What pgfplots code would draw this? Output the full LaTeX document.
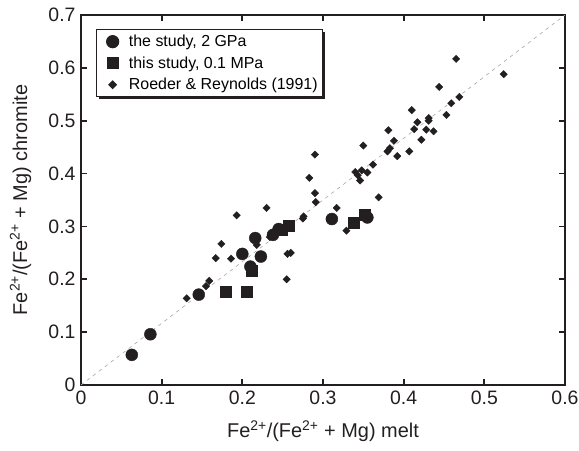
\documentclass[border=0pt]{standalone}
\usepackage{pgfplots}
\pgfplotsset{compat=1.18}
\usepackage{fontspec}
\setmainfont{Liberation Sans}
\usetikzlibrary{shadows}
\definecolor{mk}{RGB}{35,31,32}
\begin{document}
\begin{tikzpicture}
\useasboundingbox (-81bp,-66bp) rectangle (498bp,385bp);
\begin{axis}[
  scale only axis, width=484bp, height=370bp,
  xmin=0, xmax=0.6, ymin=0, ymax=0.7,
  /pgf/number format/assume math mode=true,
  xtick={0,0.1,0.2,0.3,0.4,0.5,0.6},
  ytick={0,0.1,0.2,0.3,0.4,0.5,0.6,0.7},
  xticklabels={0,0.1,0.2,0.3,0.4,0.5,0.6},
  yticklabels={0,0.1,0.2,0.3,0.4,0.5,0.6,0.7},
  tick align=inside, major tick length=6bp,
  axis line style={line width=1.8bp, color=mk},
  every tick/.style={line width=1.8bp, color=mk},
  tick label style={font=\fontsize{19.5}{21}\selectfont, color=mk},
  xticklabel style={yshift=-2bp},
  yticklabel style={xshift=-2bp},
  label style={font=\fontsize{20}{22}\selectfont, color=mk},
  xlabel={Fe\textsuperscript{2+}/(Fe\textsuperscript{2+} + Mg) melt},
  ylabel={Fe\textsuperscript{2+}/(Fe\textsuperscript{2+} + Mg) chromite},
  xlabel style={at={(axis description cs:0.5,-0.125)}, anchor=center},
  ylabel style={at={(axis description cs:-0.125,0.5)}, anchor=center},
  legend style={at={(axis description cs:0.0304,0.962)}, anchor=north west,
    draw=mk, line width=1.2bp, fill=white,
    drop shadow={shadow xshift=2.5bp, shadow yshift=-2.5bp, opacity=1, fill=mk},
    font=\fontsize{16}{18}\selectfont, cells={anchor=west},
    nodes={inner xsep=1.5bp},
    row sep=4.5bp, inner xsep=3bp, inner ysep=3.5bp},
  legend image code/.code={\path (0cm,0cm) (0.95cm,0cm);
    \draw[mark repeat=2,mark phase=2,#1] plot coordinates {(0cm,0cm)(0.45cm,0cm)(0.9cm,0cm)};},
]
\addlegendimage{only marks, mark=*, mark size=6bp, color=mk}
\addlegendimage{only marks, mark=square*, mark size=5.5bp, color=mk}
\addlegendimage{only marks, mark=square*, mark size=2.6bp, mark options={rotate=45}, color=mk}
\legend{{the study, 2 GPa}, {this study, 0.1 MPa}, {Roeder \& Reynolds (1991)}}

\addplot[forget plot, gray!70, line width=0.6bp, dash pattern=on 3.5bp off 4bp] coordinates {(0,0) (0.6,0.7)};

% Roeder & Reynolds (1991)
\addplot[forget plot, only marks, mark=square*, mark size=2.6bp, mark options={rotate=45}, color=mk] coordinates {
(0.131,0.164) (0.155,0.187) (0.159,0.197) (0.167,0.240) (0.174,0.267)
(0.186,0.239) (0.193,0.321) (0.218,0.265) (0.230,0.335) (0.234,0.280)
(0.255,0.200) (0.256,0.248) (0.260,0.250) (0.275,0.315) (0.276,0.319)
(0.283,0.392) (0.290,0.436) (0.290,0.363) (0.291,0.346) (0.317,0.335)
(0.329,0.292) (0.340,0.403) (0.343,0.397) (0.346,0.387) (0.348,0.406)
(0.355,0.402) (0.362,0.417) (0.350,0.453) (0.369,0.355) (0.380,0.442)
(0.383,0.448) (0.388,0.462) (0.381,0.482) (0.392,0.433) (0.407,0.442)
(0.410,0.520) (0.417,0.497) (0.413,0.484) (0.422,0.464) (0.428,0.483)
(0.431,0.505) (0.431,0.500) (0.437,0.480) (0.444,0.564) (0.453,0.511)
(0.459,0.533) (0.469,0.545) (0.465,0.617) (0.524,0.588)
};
% the study, 2 GPa
\addplot[forget plot, only marks, mark=*, mark size=6bp, color=mk] coordinates {
(0.063,0.057) (0.086,0.096) (0.146,0.171) (0.200,0.248) (0.223,0.243)
(0.216,0.278) (0.210,0.224) (0.238,0.284) (0.245,0.295) (0.311,0.314) (0.355,0.317)
};
% this study, 0.1 MPa
\addplot[forget plot, only marks, mark=square*, mark size=5.5bp, color=mk] coordinates {
(0.179,0.176) (0.206,0.176) (0.211,0.216) (0.249,0.294) (0.257,0.301) (0.338,0.307) (0.352,0.322)
};
\end{axis}
\end{tikzpicture}
\end{document}
